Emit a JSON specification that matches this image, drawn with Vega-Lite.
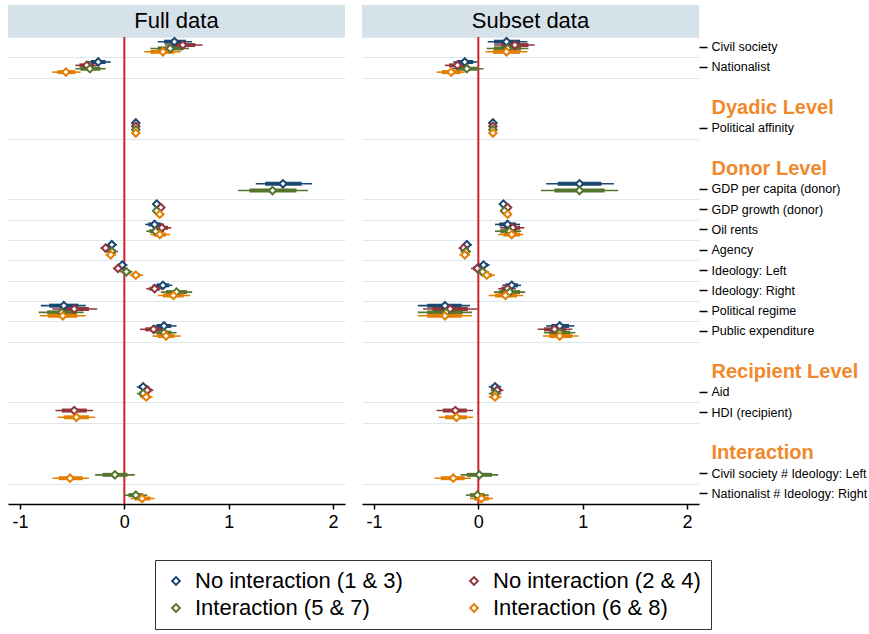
{
  "$schema": "https://vega.github.io/schema/vega-lite/v6.json",
  "padding": {"left": 8, "top": 5, "right": 0, "bottom": 0},
  "config": {
    "font": "Liberation Sans",
    "view": {"stroke": null},
    "axis": {"labelColor": "#000", "domainColor": "#000", "tickColor": "#000"},
    "axisY": {"minExtent": 0}
  },
  "datasets": {
    "coefs": [
      {"panel": "Full data", "variable": "Civil society", "model": "No interaction (1 & 3)", "est": 0.48, "lo95": 0.32, "hi95": 0.65, "lo90": 0.38, "hi90": 0.59},
      {"panel": "Full data", "variable": "Civil society", "model": "No interaction (2 & 4)", "est": 0.56, "lo95": 0.39, "hi95": 0.75, "lo90": 0.45, "hi90": 0.68},
      {"panel": "Full data", "variable": "Civil society", "model": "Interaction (5 & 7)", "est": 0.44, "lo95": 0.25, "hi95": 0.62, "lo90": 0.32, "hi90": 0.56},
      {"panel": "Full data", "variable": "Civil society", "model": "Interaction (6 & 8)", "est": 0.37, "lo95": 0.19, "hi95": 0.54, "lo90": 0.25, "hi90": 0.48},
      {"panel": "Full data", "variable": "Nationalist", "model": "No interaction (1 & 3)", "est": -0.25, "lo95": -0.36, "hi95": -0.13, "lo90": -0.32, "hi90": -0.18},
      {"panel": "Full data", "variable": "Nationalist", "model": "No interaction (2 & 4)", "est": -0.36, "lo95": -0.47, "hi95": -0.26, "lo90": -0.43, "hi90": -0.29},
      {"panel": "Full data", "variable": "Nationalist", "model": "Interaction (5 & 7)", "est": -0.33, "lo95": -0.47, "hi95": -0.18, "lo90": -0.42, "hi90": -0.23},
      {"panel": "Full data", "variable": "Nationalist", "model": "Interaction (6 & 8)", "est": -0.56, "lo95": -0.69, "hi95": -0.42, "lo90": -0.64, "hi90": -0.47},
      {"panel": "Full data", "variable": "Political affinity", "model": "No interaction (1 & 3)", "est": 0.11, "lo95": 0.07, "hi95": 0.15, "lo90": 0.085, "hi90": 0.135},
      {"panel": "Full data", "variable": "Political affinity", "model": "No interaction (2 & 4)", "est": 0.11, "lo95": 0.07, "hi95": 0.15, "lo90": 0.085, "hi90": 0.135},
      {"panel": "Full data", "variable": "Political affinity", "model": "Interaction (5 & 7)", "est": 0.11, "lo95": 0.07, "hi95": 0.15, "lo90": 0.085, "hi90": 0.135},
      {"panel": "Full data", "variable": "Political affinity", "model": "Interaction (6 & 8)", "est": 0.11, "lo95": 0.07, "hi95": 0.15, "lo90": 0.085, "hi90": 0.135},
      {"panel": "Full data", "variable": "GDP per capita (donor)", "model": "No interaction (1 & 3)", "est": 1.52, "lo95": 1.26, "hi95": 1.80, "lo90": 1.35, "hi90": 1.70},
      {"panel": "Full data", "variable": "GDP per capita (donor)", "model": "Interaction (5 & 7)", "est": 1.42, "lo95": 1.09, "hi95": 1.76, "lo90": 1.20, "hi90": 1.65},
      {"panel": "Full data", "variable": "GDP growth (donor)", "model": "No interaction (1 & 3)", "est": 0.31, "lo95": 0.28, "hi95": 0.34, "lo90": 0.29, "hi90": 0.33},
      {"panel": "Full data", "variable": "GDP growth (donor)", "model": "No interaction (2 & 4)", "est": 0.35, "lo95": 0.32, "hi95": 0.38, "lo90": 0.33, "hi90": 0.37},
      {"panel": "Full data", "variable": "GDP growth (donor)", "model": "Interaction (5 & 7)", "est": 0.31, "lo95": 0.28, "hi95": 0.34, "lo90": 0.29, "hi90": 0.33},
      {"panel": "Full data", "variable": "GDP growth (donor)", "model": "Interaction (6 & 8)", "est": 0.34, "lo95": 0.31, "hi95": 0.37, "lo90": 0.32, "hi90": 0.36},
      {"panel": "Full data", "variable": "Oil rents", "model": "No interaction (1 & 3)", "est": 0.29, "lo95": 0.20, "hi95": 0.38, "lo90": 0.23, "hi90": 0.35},
      {"panel": "Full data", "variable": "Oil rents", "model": "No interaction (2 & 4)", "est": 0.36, "lo95": 0.27, "hi95": 0.45, "lo90": 0.30, "hi90": 0.42},
      {"panel": "Full data", "variable": "Oil rents", "model": "Interaction (5 & 7)", "est": 0.30, "lo95": 0.21, "hi95": 0.38, "lo90": 0.24, "hi90": 0.36},
      {"panel": "Full data", "variable": "Oil rents", "model": "Interaction (6 & 8)", "est": 0.34, "lo95": 0.25, "hi95": 0.44, "lo90": 0.28, "hi90": 0.40},
      {"panel": "Full data", "variable": "Agency", "model": "No interaction (1 & 3)", "est": -0.12, "lo95": -0.17, "hi95": -0.07, "lo90": -0.15, "hi90": -0.09},
      {"panel": "Full data", "variable": "Agency", "model": "No interaction (2 & 4)", "est": -0.18, "lo95": -0.23, "hi95": -0.13, "lo90": -0.21, "hi90": -0.15},
      {"panel": "Full data", "variable": "Agency", "model": "Interaction (5 & 7)", "est": -0.12, "lo95": -0.18, "hi95": -0.06, "lo90": -0.16, "hi90": -0.08},
      {"panel": "Full data", "variable": "Agency", "model": "Interaction (6 & 8)", "est": -0.13, "lo95": -0.18, "hi95": -0.08, "lo90": -0.16, "hi90": -0.10},
      {"panel": "Full data", "variable": "Ideology: Left", "model": "No interaction (1 & 3)", "est": -0.02, "lo95": -0.07, "hi95": 0.03, "lo90": -0.05, "hi90": 0.01},
      {"panel": "Full data", "variable": "Ideology: Left", "model": "No interaction (2 & 4)", "est": -0.06, "lo95": -0.11, "hi95": -0.01, "lo90": -0.09, "hi90": -0.03},
      {"panel": "Full data", "variable": "Ideology: Left", "model": "Interaction (5 & 7)", "est": 0.02, "lo95": -0.04, "hi95": 0.08, "lo90": -0.02, "hi90": 0.06},
      {"panel": "Full data", "variable": "Ideology: Left", "model": "Interaction (6 & 8)", "est": 0.11, "lo95": 0.05, "hi95": 0.18, "lo90": 0.07, "hi90": 0.15},
      {"panel": "Full data", "variable": "Ideology: Right", "model": "No interaction (1 & 3)", "est": 0.37, "lo95": 0.27, "hi95": 0.46, "lo90": 0.31, "hi90": 0.43},
      {"panel": "Full data", "variable": "Ideology: Right", "model": "No interaction (2 & 4)", "est": 0.29, "lo95": 0.21, "hi95": 0.37, "lo90": 0.24, "hi90": 0.34},
      {"panel": "Full data", "variable": "Ideology: Right", "model": "Interaction (5 & 7)", "est": 0.50, "lo95": 0.35, "hi95": 0.65, "lo90": 0.40, "hi90": 0.60},
      {"panel": "Full data", "variable": "Ideology: Right", "model": "Interaction (6 & 8)", "est": 0.47, "lo95": 0.32, "hi95": 0.63, "lo90": 0.37, "hi90": 0.57},
      {"panel": "Full data", "variable": "Political regime", "model": "No interaction (1 & 3)", "est": -0.58, "lo95": -0.80, "hi95": -0.37, "lo90": -0.72, "hi90": -0.44},
      {"panel": "Full data", "variable": "Political regime", "model": "No interaction (2 & 4)", "est": -0.48, "lo95": -0.69, "hi95": -0.26, "lo90": -0.62, "hi90": -0.34},
      {"panel": "Full data", "variable": "Political regime", "model": "Interaction (5 & 7)", "est": -0.60, "lo95": -0.82, "hi95": -0.39, "lo90": -0.74, "hi90": -0.46},
      {"panel": "Full data", "variable": "Political regime", "model": "Interaction (6 & 8)", "est": -0.59, "lo95": -0.81, "hi95": -0.37, "lo90": -0.73, "hi90": -0.45},
      {"panel": "Full data", "variable": "Public expenditure", "model": "No interaction (1 & 3)", "est": 0.38, "lo95": 0.27, "hi95": 0.50, "lo90": 0.31, "hi90": 0.45},
      {"panel": "Full data", "variable": "Public expenditure", "model": "No interaction (2 & 4)", "est": 0.28, "lo95": 0.15, "hi95": 0.39, "lo90": 0.20, "hi90": 0.36},
      {"panel": "Full data", "variable": "Public expenditure", "model": "Interaction (5 & 7)", "est": 0.38, "lo95": 0.27, "hi95": 0.50, "lo90": 0.31, "hi90": 0.45},
      {"panel": "Full data", "variable": "Public expenditure", "model": "Interaction (6 & 8)", "est": 0.40, "lo95": 0.27, "hi95": 0.54, "lo90": 0.32, "hi90": 0.48},
      {"panel": "Full data", "variable": "Aid", "model": "No interaction (1 & 3)", "est": 0.18, "lo95": 0.12, "hi95": 0.24, "lo90": 0.14, "hi90": 0.22},
      {"panel": "Full data", "variable": "Aid", "model": "No interaction (2 & 4)", "est": 0.22, "lo95": 0.16, "hi95": 0.28, "lo90": 0.18, "hi90": 0.26},
      {"panel": "Full data", "variable": "Aid", "model": "Interaction (5 & 7)", "est": 0.18, "lo95": 0.12, "hi95": 0.24, "lo90": 0.14, "hi90": 0.22},
      {"panel": "Full data", "variable": "Aid", "model": "Interaction (6 & 8)", "est": 0.21, "lo95": 0.15, "hi95": 0.27, "lo90": 0.17, "hi90": 0.25},
      {"panel": "Full data", "variable": "HDI (recipient)", "model": "No interaction (2 & 4)", "est": -0.48, "lo95": -0.66, "hi95": -0.30, "lo90": -0.60, "hi90": -0.36},
      {"panel": "Full data", "variable": "HDI (recipient)", "model": "Interaction (6 & 8)", "est": -0.46, "lo95": -0.64, "hi95": -0.28, "lo90": -0.58, "hi90": -0.34},
      {"panel": "Full data", "variable": "Civil society # Ideology: Left", "model": "Interaction (5 & 7)", "est": -0.09, "lo95": -0.28, "hi95": 0.10, "lo90": -0.21, "hi90": 0.03},
      {"panel": "Full data", "variable": "Civil society # Ideology: Left", "model": "Interaction (6 & 8)", "est": -0.52, "lo95": -0.69, "hi95": -0.34, "lo90": -0.63, "hi90": -0.40},
      {"panel": "Full data", "variable": "Nationalist # Ideology: Right", "model": "Interaction (5 & 7)", "est": 0.11, "lo95": 0.00, "hi95": 0.22, "lo90": 0.04, "hi90": 0.18},
      {"panel": "Full data", "variable": "Nationalist # Ideology: Right", "model": "Interaction (6 & 8)", "est": 0.17, "lo95": 0.06, "hi95": 0.29, "lo90": 0.10, "hi90": 0.25},

      {"panel": "Subset data", "variable": "Civil society", "model": "No interaction (1 & 3)", "est": 0.27, "lo95": 0.09, "hi95": 0.47, "lo90": 0.15, "hi90": 0.40},
      {"panel": "Subset data", "variable": "Civil society", "model": "No interaction (2 & 4)", "est": 0.35, "lo95": 0.15, "hi95": 0.54, "lo90": 0.22, "hi90": 0.48},
      {"panel": "Subset data", "variable": "Civil society", "model": "Interaction (5 & 7)", "est": 0.28, "lo95": 0.08, "hi95": 0.48, "lo90": 0.15, "hi90": 0.41},
      {"panel": "Subset data", "variable": "Civil society", "model": "Interaction (6 & 8)", "est": 0.27, "lo95": 0.07, "hi95": 0.47, "lo90": 0.14, "hi90": 0.40},
      {"panel": "Subset data", "variable": "Nationalist", "model": "No interaction (1 & 3)", "est": -0.13, "lo95": -0.24, "hi95": -0.01, "lo90": -0.20, "hi90": -0.05},
      {"panel": "Subset data", "variable": "Nationalist", "model": "No interaction (2 & 4)", "est": -0.20, "lo95": -0.32, "hi95": -0.09, "lo90": -0.28, "hi90": -0.13},
      {"panel": "Subset data", "variable": "Nationalist", "model": "Interaction (5 & 7)", "est": -0.11, "lo95": -0.26, "hi95": 0.05, "lo90": -0.21, "hi90": -0.01},
      {"panel": "Subset data", "variable": "Nationalist", "model": "Interaction (6 & 8)", "est": -0.26, "lo95": -0.40, "hi95": -0.13, "lo90": -0.35, "hi90": -0.17},
      {"panel": "Subset data", "variable": "Political affinity", "model": "No interaction (1 & 3)", "est": 0.14, "lo95": 0.10, "hi95": 0.18, "lo90": 0.115, "hi90": 0.165},
      {"panel": "Subset data", "variable": "Political affinity", "model": "No interaction (2 & 4)", "est": 0.14, "lo95": 0.10, "hi95": 0.18, "lo90": 0.115, "hi90": 0.165},
      {"panel": "Subset data", "variable": "Political affinity", "model": "Interaction (5 & 7)", "est": 0.14, "lo95": 0.10, "hi95": 0.18, "lo90": 0.115, "hi90": 0.165},
      {"panel": "Subset data", "variable": "Political affinity", "model": "Interaction (6 & 8)", "est": 0.14, "lo95": 0.10, "hi95": 0.18, "lo90": 0.115, "hi90": 0.165},
      {"panel": "Subset data", "variable": "GDP per capita (donor)", "model": "No interaction (1 & 3)", "est": 0.97, "lo95": 0.65, "hi95": 1.30, "lo90": 0.76, "hi90": 1.18},
      {"panel": "Subset data", "variable": "GDP per capita (donor)", "model": "Interaction (5 & 7)", "est": 0.97, "lo95": 0.60, "hi95": 1.34, "lo90": 0.73, "hi90": 1.21},
      {"panel": "Subset data", "variable": "GDP growth (donor)", "model": "No interaction (1 & 3)", "est": 0.24, "lo95": 0.21, "hi95": 0.28, "lo90": 0.22, "hi90": 0.26},
      {"panel": "Subset data", "variable": "GDP growth (donor)", "model": "No interaction (2 & 4)", "est": 0.28, "lo95": 0.25, "hi95": 0.31, "lo90": 0.26, "hi90": 0.30},
      {"panel": "Subset data", "variable": "GDP growth (donor)", "model": "Interaction (5 & 7)", "est": 0.25, "lo95": 0.22, "hi95": 0.28, "lo90": 0.23, "hi90": 0.27},
      {"panel": "Subset data", "variable": "GDP growth (donor)", "model": "Interaction (6 & 8)", "est": 0.28, "lo95": 0.25, "hi95": 0.31, "lo90": 0.26, "hi90": 0.30},
      {"panel": "Subset data", "variable": "Oil rents", "model": "No interaction (1 & 3)", "est": 0.28, "lo95": 0.16, "hi95": 0.40, "lo90": 0.20, "hi90": 0.36},
      {"panel": "Subset data", "variable": "Oil rents", "model": "No interaction (2 & 4)", "est": 0.33, "lo95": 0.21, "hi95": 0.44, "lo90": 0.25, "hi90": 0.40},
      {"panel": "Subset data", "variable": "Oil rents", "model": "Interaction (5 & 7)", "est": 0.30, "lo95": 0.16, "hi95": 0.41, "lo90": 0.21, "hi90": 0.37},
      {"panel": "Subset data", "variable": "Oil rents", "model": "Interaction (6 & 8)", "est": 0.32, "lo95": 0.19, "hi95": 0.43, "lo90": 0.24, "hi90": 0.40},
      {"panel": "Subset data", "variable": "Agency", "model": "No interaction (1 & 3)", "est": -0.11, "lo95": -0.16, "hi95": -0.06, "lo90": -0.14, "hi90": -0.08},
      {"panel": "Subset data", "variable": "Agency", "model": "No interaction (2 & 4)", "est": -0.14, "lo95": -0.19, "hi95": -0.09, "lo90": -0.17, "hi90": -0.11},
      {"panel": "Subset data", "variable": "Agency", "model": "Interaction (5 & 7)", "est": -0.12, "lo95": -0.17, "hi95": -0.07, "lo90": -0.15, "hi90": -0.09},
      {"panel": "Subset data", "variable": "Agency", "model": "Interaction (6 & 8)", "est": -0.13, "lo95": -0.18, "hi95": -0.08, "lo90": -0.16, "hi90": -0.10},
      {"panel": "Subset data", "variable": "Ideology: Left", "model": "No interaction (1 & 3)", "est": 0.05, "lo95": -0.01, "hi95": 0.11, "lo90": 0.01, "hi90": 0.09},
      {"panel": "Subset data", "variable": "Ideology: Left", "model": "No interaction (2 & 4)", "est": -0.01, "lo95": -0.07, "hi95": 0.05, "lo90": -0.05, "hi90": 0.03},
      {"panel": "Subset data", "variable": "Ideology: Left", "model": "Interaction (5 & 7)", "est": 0.04, "lo95": -0.02, "hi95": 0.10, "lo90": 0.00, "hi90": 0.08},
      {"panel": "Subset data", "variable": "Ideology: Left", "model": "Interaction (6 & 8)", "est": 0.08, "lo95": 0.02, "hi95": 0.16, "lo90": 0.04, "hi90": 0.13},
      {"panel": "Subset data", "variable": "Ideology: Right", "model": "No interaction (1 & 3)", "est": 0.32, "lo95": 0.23, "hi95": 0.41, "lo90": 0.26, "hi90": 0.38},
      {"panel": "Subset data", "variable": "Ideology: Right", "model": "No interaction (2 & 4)", "est": 0.28, "lo95": 0.19, "hi95": 0.36, "lo90": 0.22, "hi90": 0.33},
      {"panel": "Subset data", "variable": "Ideology: Right", "model": "Interaction (5 & 7)", "est": 0.30, "lo95": 0.15, "hi95": 0.45, "lo90": 0.20, "hi90": 0.40},
      {"panel": "Subset data", "variable": "Ideology: Right", "model": "Interaction (6 & 8)", "est": 0.26, "lo95": 0.10, "hi95": 0.43, "lo90": 0.16, "hi90": 0.37},
      {"panel": "Subset data", "variable": "Political regime", "model": "No interaction (1 & 3)", "est": -0.32, "lo95": -0.58, "hi95": -0.08, "lo90": -0.49, "hi90": -0.16},
      {"panel": "Subset data", "variable": "Political regime", "model": "No interaction (2 & 4)", "est": -0.27, "lo95": -0.53, "hi95": -0.01, "lo90": -0.44, "hi90": -0.10},
      {"panel": "Subset data", "variable": "Political regime", "model": "Interaction (5 & 7)", "est": -0.31, "lo95": -0.58, "hi95": -0.06, "lo90": -0.49, "hi90": -0.15},
      {"panel": "Subset data", "variable": "Political regime", "model": "Interaction (6 & 8)", "est": -0.32, "lo95": -0.58, "hi95": -0.06, "lo90": -0.49, "hi90": -0.16},
      {"panel": "Subset data", "variable": "Public expenditure", "model": "No interaction (1 & 3)", "est": 0.78, "lo95": 0.65, "hi95": 0.92, "lo90": 0.70, "hi90": 0.87},
      {"panel": "Subset data", "variable": "Public expenditure", "model": "No interaction (2 & 4)", "est": 0.73, "lo95": 0.57, "hi95": 0.90, "lo90": 0.63, "hi90": 0.84},
      {"panel": "Subset data", "variable": "Public expenditure", "model": "Interaction (5 & 7)", "est": 0.78, "lo95": 0.63, "hi95": 0.93, "lo90": 0.68, "hi90": 0.88},
      {"panel": "Subset data", "variable": "Public expenditure", "model": "Interaction (6 & 8)", "est": 0.78, "lo95": 0.62, "hi95": 0.96, "lo90": 0.68, "hi90": 0.90},
      {"panel": "Subset data", "variable": "Aid", "model": "No interaction (1 & 3)", "est": 0.16, "lo95": 0.10, "hi95": 0.22, "lo90": 0.12, "hi90": 0.20},
      {"panel": "Subset data", "variable": "Aid", "model": "No interaction (2 & 4)", "est": 0.18, "lo95": 0.12, "hi95": 0.24, "lo90": 0.14, "hi90": 0.22},
      {"panel": "Subset data", "variable": "Aid", "model": "Interaction (5 & 7)", "est": 0.16, "lo95": 0.10, "hi95": 0.22, "lo90": 0.12, "hi90": 0.20},
      {"panel": "Subset data", "variable": "Aid", "model": "Interaction (6 & 8)", "est": 0.16, "lo95": 0.10, "hi95": 0.22, "lo90": 0.12, "hi90": 0.20},
      {"panel": "Subset data", "variable": "HDI (recipient)", "model": "No interaction (2 & 4)", "est": -0.22, "lo95": -0.40, "hi95": -0.05, "lo90": -0.34, "hi90": -0.11},
      {"panel": "Subset data", "variable": "HDI (recipient)", "model": "Interaction (6 & 8)", "est": -0.21, "lo95": -0.38, "hi95": -0.05, "lo90": -0.32, "hi90": -0.11},
      {"panel": "Subset data", "variable": "Civil society # Ideology: Left", "model": "Interaction (5 & 7)", "est": 0.01, "lo95": -0.17, "hi95": 0.19, "lo90": -0.11, "hi90": 0.13},
      {"panel": "Subset data", "variable": "Civil society # Ideology: Left", "model": "Interaction (6 & 8)", "est": -0.24, "lo95": -0.42, "hi95": -0.07, "lo90": -0.36, "hi90": -0.13},
      {"panel": "Subset data", "variable": "Nationalist # Ideology: Right", "model": "Interaction (5 & 7)", "est": -0.01, "lo95": -0.12, "hi95": 0.10, "lo90": -0.08, "hi90": 0.06},
      {"panel": "Subset data", "variable": "Nationalist # Ideology: Right", "model": "Interaction (6 & 8)", "est": 0.03, "lo95": -0.08, "hi95": 0.14, "lo90": -0.04, "hi90": 0.10}
    ]
  },
  "resolve": {"scale": {"color": "shared"}, "legend": {"color": "shared"}},
  "spacing": 17,
  "hconcat": [
    {
      "spacing": 0,
      "bounds": "flush",
      "resolve": {"scale": {"color": "shared"}, "legend": {"color": "shared"}},
      "vconcat": [
        {
          "width": 337, "height": 32,
          "view": {"fill": "#d6e2e9", "stroke": null},
          "data": {"values": [{"panel": "Full data"}]},
          "mark": {"type": "text", "fontSize": 22, "color": "#000"},
          "encoding": {"text": {"field": "panel"}}
        },
        {
          "width": 337, "height": 467,
          "data": {"name": "coefs"},
          "transform": [{"filter": "datum.panel == 'Full data'"}],
          "resolve": {"axis": {"y": "independent"}, "scale": {"color": "shared"}, "legend": {"color": "shared"}},
          "layer": [
            {
              "data": {"values": [{}]},
              "mark": {"type": "rule", "color": "#cc2229", "strokeWidth": 2},
              "encoding": {"x": {"datum": 0, "type": "quantitative", "scale": {"domain": [-1.115, 2.115], "nice": false, "zero": false}}}
            },
            {
              "mark": {"type": "rule", "strokeWidth": 1.6},
              "encoding": {
                "x": {"field": "lo95", "type": "quantitative", "scale": {"domain": [-1.115, 2.115], "nice": false, "zero": false},
                  "axis": {"values": [-1, 0, 1, 2], "labelExpr": "datum.value + ''", "title": null, "grid": false, "labelFontSize": 18, "tickSize": 5, "labelPadding": 4, "domainWidth": 1.5, "tickWidth": 1.5}},
                "x2": {"field": "hi95"},
                "y": {"field": "variable", "type": "nominal",
                  "scale": {"domain": ["Civil society", "Nationalist", "_b1", "Dyadic Level", "Political affinity", "_b2", "Donor Level", "GDP per capita (donor)", "GDP growth (donor)", "Oil rents", "Agency", "Ideology: Left", "Ideology: Right", "Political regime", "Public expenditure", "_b3", "Recipient Level", "Aid", "HDI (recipient)", "_b4", "Interaction", "Civil society # Ideology: Left", "Nationalist # Ideology: Right"], "paddingInner": 0, "paddingOuter": 0},
                  "axis": {"orient": "left", "title": null, "labels": false, "ticks": false, "domain": false, "grid": true, "tickBand": "extent", "gridColor": "#dde7ee", "gridWidth": 1.2, "minExtent": 0, "maxExtent": 0,
                    "values": ["Civil society", "Nationalist", "Political affinity", "GDP per capita (donor)", "GDP growth (donor)", "Oil rents", "Agency", "Ideology: Left", "Ideology: Right", "Political regime", "Public expenditure", "Aid", "HDI (recipient)", "Civil society # Ideology: Left", "Nationalist # Ideology: Right"]}},
                "yOffset": {"field": "model", "type": "nominal", "scale": {"type": "point", "domain": ["No interaction (1 & 3)", "No interaction (2 & 4)", "Interaction (5 & 7)", "Interaction (6 & 8)"], "range": [3, 16.5]}},
                "color": {"field": "model", "type": "nominal",
                  "scale": {"domain": ["No interaction (1 & 3)", "No interaction (2 & 4)", "Interaction (5 & 7)", "Interaction (6 & 8)"], "range": ["#1a476f", "#90353b", "#55752f", "#e37e00"]},
                  "legend": {"orient": "none", "legendX": 147, "legendY": 555, "direction": "horizontal", "columns": 2, "title": null, "symbolType": "diamond", "symbolSize": 60, "symbolStrokeWidth": 2, "symbolFillColor": "white", "labelFontSize": 22, "labelOffset": 8, "labelColor": "#000", "strokeColor": "#333", "fillColor": "white", "padding": 10, "columnPadding": 60, "rowPadding": 5, "labelLimit": 400}}
              }
            },
            {
              "mark": {"type": "rule", "strokeWidth": 4},
              "encoding": {
                "x": {"field": "lo90", "type": "quantitative"},
                "x2": {"field": "hi90"},
                "y": {"field": "variable", "type": "nominal", "axis": null},
                "yOffset": {"field": "model", "type": "nominal"},
                "color": {"field": "model", "type": "nominal"}
              }
            },
            {
              "mark": {"type": "point", "shape": "diamond", "filled": false, "fill": "white", "fillOpacity": 1, "strokeWidth": 2, "size": 55, "opacity": 1},
              "encoding": {
                "x": {"field": "est", "type": "quantitative"},
                "y": {"field": "variable", "type": "nominal", "axis": null},
                "yOffset": {"field": "model", "type": "nominal"},
                "color": {"field": "model", "type": "nominal"}
              }
            }
          ]
        }
      ]
    },
    {
      "spacing": 0,
      "bounds": "flush",
      "resolve": {"scale": {"color": "shared"}, "legend": {"color": "shared"}},
      "vconcat": [
        {
          "width": 337, "height": 32,
          "view": {"fill": "#d6e2e9", "stroke": null},
          "data": {"values": [{"panel": "Subset data"}]},
          "mark": {"type": "text", "fontSize": 22, "color": "#000"},
          "encoding": {"text": {"field": "panel"}}
        },
        {
          "width": 337, "height": 467,
          "data": {"name": "coefs"},
          "transform": [{"filter": "datum.panel == 'Subset data'"}],
          "resolve": {"axis": {"y": "independent"}, "scale": {"color": "shared"}, "legend": {"color": "shared"}},
          "layer": [
            {
              "data": {"values": [{}]},
              "mark": {"type": "rule", "color": "#cc2229", "strokeWidth": 2},
              "encoding": {"x": {"datum": 0, "type": "quantitative", "scale": {"domain": [-1.115, 2.115], "nice": false, "zero": false}}}
            },
            {
              "mark": {"type": "rule", "strokeWidth": 1.6},
              "encoding": {
                "x": {"field": "lo95", "type": "quantitative", "scale": {"domain": [-1.115, 2.115], "nice": false, "zero": false},
                  "axis": {"values": [-1, 0, 1, 2], "labelExpr": "datum.value + ''", "title": null, "grid": false, "labelFontSize": 18, "tickSize": 5, "labelPadding": 4, "domainWidth": 1.5, "tickWidth": 1.5}},
                "x2": {"field": "hi95"},
                "y": {"field": "variable", "type": "nominal",
                  "scale": {"domain": ["Civil society", "Nationalist", "_b1", "Dyadic Level", "Political affinity", "_b2", "Donor Level", "GDP per capita (donor)", "GDP growth (donor)", "Oil rents", "Agency", "Ideology: Left", "Ideology: Right", "Political regime", "Public expenditure", "_b3", "Recipient Level", "Aid", "HDI (recipient)", "_b4", "Interaction", "Civil society # Ideology: Left", "Nationalist # Ideology: Right"], "paddingInner": 0, "paddingOuter": 0},
                  "axis": {"orient": "left", "title": null, "labels": false, "ticks": false, "domain": false, "grid": true, "tickBand": "extent", "gridColor": "#dde7ee", "gridWidth": 1.2, "minExtent": 0, "maxExtent": 0,
                    "values": ["Civil society", "Nationalist", "Political affinity", "GDP per capita (donor)", "GDP growth (donor)", "Oil rents", "Agency", "Ideology: Left", "Ideology: Right", "Political regime", "Public expenditure", "Aid", "HDI (recipient)", "Civil society # Ideology: Left", "Nationalist # Ideology: Right"]}},
                "yOffset": {"field": "model", "type": "nominal", "scale": {"type": "point", "domain": ["No interaction (1 & 3)", "No interaction (2 & 4)", "Interaction (5 & 7)", "Interaction (6 & 8)"], "range": [3, 16.5]}},
                "color": {"field": "model", "type": "nominal"}
              }
            },
            {
              "mark": {"type": "rule", "strokeWidth": 4},
              "encoding": {
                "x": {"field": "lo90", "type": "quantitative"},
                "x2": {"field": "hi90"},
                "y": {"field": "variable", "type": "nominal", "axis": null},
                "yOffset": {"field": "model", "type": "nominal"},
                "color": {"field": "model", "type": "nominal"}
              }
            },
            {
              "mark": {"type": "point", "shape": "diamond", "filled": false, "fill": "white", "fillOpacity": 1, "strokeWidth": 2, "size": 55, "opacity": 1},
              "encoding": {
                "x": {"field": "est", "type": "quantitative"},
                "y": {"field": "variable", "type": "nominal",
                  "axis": {"orient": "right", "title": null, "domain": false, "grid": false, "tickSize": 8, "tickWidth": 1.5, "labelPadding": 4, "labelLimit": 300,
                    "values": ["Civil society", "Nationalist", "Dyadic Level", "Political affinity", "Donor Level", "GDP per capita (donor)", "GDP growth (donor)", "Oil rents", "Agency", "Ideology: Left", "Ideology: Right", "Political regime", "Public expenditure", "Recipient Level", "Aid", "HDI (recipient)", "Interaction", "Civil society # Ideology: Left", "Nationalist # Ideology: Right"],
                    "labelColor": {"condition": {"test": "indexof(['Dyadic Level','Donor Level','Recipient Level','Interaction'], datum.value) >= 0", "value": "#f0892c"}, "value": "#000"},
                    "labelFontSize": {"condition": {"test": "indexof(['Dyadic Level','Donor Level','Recipient Level','Interaction'], datum.value) >= 0", "value": 20}, "value": 12.5},
                    "labelFontWeight": {"condition": {"test": "indexof(['Dyadic Level','Donor Level','Recipient Level','Interaction'], datum.value) >= 0", "value": "bold"}, "value": "normal"},
                    "tickOpacity": {"condition": {"test": "indexof(['Dyadic Level','Donor Level','Recipient Level','Interaction'], datum.value) >= 0", "value": 0}, "value": 1}}},
                "yOffset": {"field": "model", "type": "nominal"},
                "color": {"field": "model", "type": "nominal"}
              }
            }
          ]
        }
      ]
    }
  ]
}
